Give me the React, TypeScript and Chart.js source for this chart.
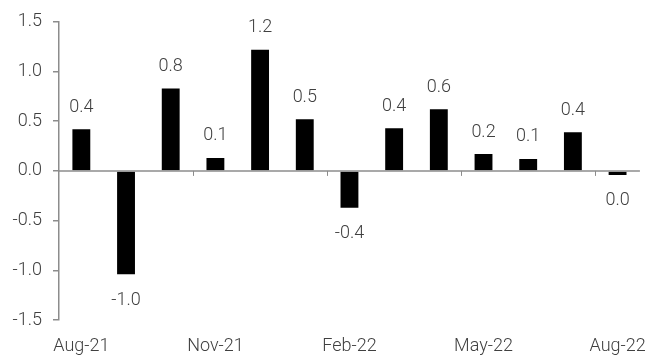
import React, { useEffect, useRef } from "react";
import { Chart, registerables } from "chart.js";

Chart.register(...registerables);

const categories = [
  "Aug-21", "Sep-21", "Oct-21", "Nov-21", "Dec-21", "Jan-22", "Feb-22",
  "Mar-22", "Apr-22", "May-22", "Jun-22", "Jul-22", "Aug-22",
];
const values = [0.42, -1.04, 0.83, 0.13, 1.22, 0.52, -0.37, 0.43, 0.62, 0.17, 0.12, 0.39, -0.04];
const yTicks = [-1.5, -1.0, -0.5, 0.0, 0.5, 1.0, 1.5];

const FONT = "Roboto";
const TEXT = "#404040";
const AXIS = "#8c8c8c";

const fmt = (v: number) => {
  const s = v.toFixed(1);
  return s === "-0.0" ? "0.0" : s;
};

const decorPlugin = {
  id: "decor",
  afterDatasetsDraw(chart: any) {
    const ctx = chart.ctx;
    const x = chart.scales.x;
    const y = chart.scales.y;
    const y0 = y.getPixelForValue(0);
    ctx.save();
    ctx.strokeStyle = AXIS;
    ctx.lineWidth = 1.5;
    ctx.beginPath();
    ctx.moveTo(chart.chartArea.left, y0);
    ctx.lineTo(chart.chartArea.right, y0);
    ctx.stroke();
    ctx.lineWidth = 1;
    const n = categories.length;
    for (let i = 3; i < n; i += 3) {
      const xb = (x.getPixelForValue(i - 1) + x.getPixelForValue(i)) / 2;
      ctx.beginPath();
      ctx.moveTo(Math.round(xb) + 0.5, y0);
      ctx.lineTo(Math.round(xb) + 0.5, y0 + 5);
      ctx.stroke();
    }
    ctx.fillStyle = TEXT;
    ctx.font = `300 18px ${FONT}`;
    ctx.textAlign = "center";
    ctx.textBaseline = "middle";
    const meta = chart.getDatasetMeta(0);
    meta.data.forEach((bar: any, i: number) => {
      const v = values[i];
      const ty = v >= 0 ? bar.y - 22 : bar.y + 26;
      ctx.fillText(fmt(v), bar.x, ty);
    });
    ctx.restore();
  },
};

export default function App() {
  const ref = useRef<HTMLCanvasElement>(null);
  useEffect(() => {
    if (!ref.current) return;
    const chart = new Chart(ref.current, {
      type: "bar",
      data: {
        labels: categories,
        datasets: [
          {
            data: values,
            backgroundColor: "#000000",
            barPercentage: 0.8,
            categoryPercentage: 0.5,
          },
        ],
      },
      options: {
        animation: false,
        responsive: false,
        layout: { padding: { top: 20, right: 9, bottom: 0, left: 0 } },
        plugins: { legend: { display: false }, tooltip: { enabled: false } },
        scales: {
          x: {
            offset: true,
            grid: { display: false },
            border: { display: false },
            afterFit: (s: any) => {
              s.height = 40;
            },
            ticks: {
              autoSkip: false,
              maxRotation: 0,
              padding: 8,
              color: TEXT,
              font: { family: FONT, size: 18, weight: 300 },
              callback: (_v: any, i: number) => (i % 3 === 0 ? categories[i] : ""),
            },
          },
          y: {
            min: -1.5,
            max: 1.5,
            afterBuildTicks: (s: any) => {
              s.ticks = yTicks.map((v) => ({ value: v }));
            },
            afterFit: (s: any) => {
              s.width = 59;
            },
            grid: {
              drawOnChartArea: false,
              drawTicks: true,
              tickLength: 6,
              color: AXIS,
              lineWidth: 1.5,
            },
            border: { display: true, color: AXIS, width: 1.5 },
            ticks: {
              padding: 11,
              color: TEXT,
              font: { family: FONT, size: 18, weight: 300 },
              callback: (v: any) => fmt(Number(v)),
            },
          },
        },
      },
      plugins: [decorPlugin],
    });
    return () => chart.destroy();
  }, []);
  return (
    <div style={{ position: "absolute", left: 0, top: 0, width: 654, height: 360, background: "#fff" }}>
      <canvas ref={ref} width={654} height={360} style={{ width: 654, height: 360 }} />
    </div>
  );
}
